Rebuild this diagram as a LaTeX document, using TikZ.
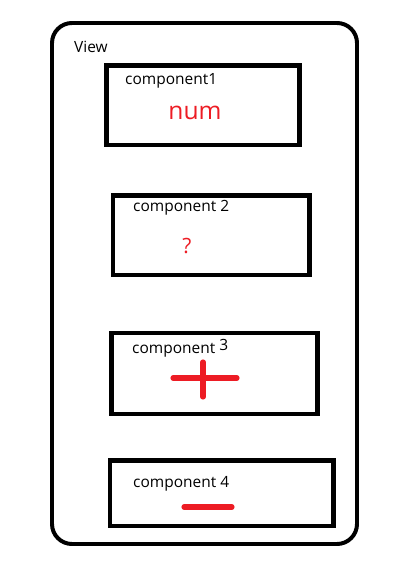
\documentclass[tikz,border=0pt]{standalone}
\usepackage{fontspec}
\setmainfont{Open Sans}

\definecolor{paintred}{RGB}{237,28,36}
\tikzset{
  boxline/.style={line width=3.8pt},
  mark red/.style={draw=paintred, line width=4.4pt, line cap=round},
  label text/.style={anchor=base west, inner sep=0pt, font=\fontsize{13.2}{15}\selectfont}
}

\begin{document}
\begin{tikzpicture}[x=0.03cm, y=-0.03cm]
  \useasboundingbox (0,0) rectangle (409,572);
  % the view
  \draw[line width=3.4pt, rounded corners=0.6cm] (52,23) rectangle (357,544);
  \node[label text] (view) at (74,53) {View};
  % component 1
  \draw[boxline] (106.5,65.5) rectangle (299.5,145);
  \node[label text] (comp1) at (125,85) {component1};
  \node[anchor=base, inner sep=0pt, text=paintred, font=\fontsize{21}{24}\selectfont] (num) at (195,120) {num};
  % component 2
  \draw[boxline] (113,195.5) rectangle (309.5,275);
  \node[label text] (comp2) at (133,212) {component 2};
  \node[anchor=base, inner sep=0pt, text=paintred, font=\fontsize{18}{20}\selectfont] (quest) at (187,253) {?};
  % component 3
  \draw[boxline] (111.5,333) rectangle (317.5,414);
  \node[label text] (comp3) at (132,353) {component \raisebox{2pt}{3}};
  \coordinate (plusw) at (173,378);
  \coordinate (pluse) at (237,378);
  \coordinate (plusn) at (203,362);
  \coordinate (pluss) at (203,397);
  \draw[mark red] (plusw) -- (pluse);
  \draw[mark red] (plusn) -- (pluss);
  % component 4
  \draw[boxline] (110,460.5) rectangle (333.5,526);
  \node[label text] (comp4) at (133,487) {component 4};
  \coordinate (minusw) at (184,507);
  \coordinate (minuse) at (232,507);
  \draw[mark red] (minusw) -- (minuse);
\end{tikzpicture}
\end{document}
